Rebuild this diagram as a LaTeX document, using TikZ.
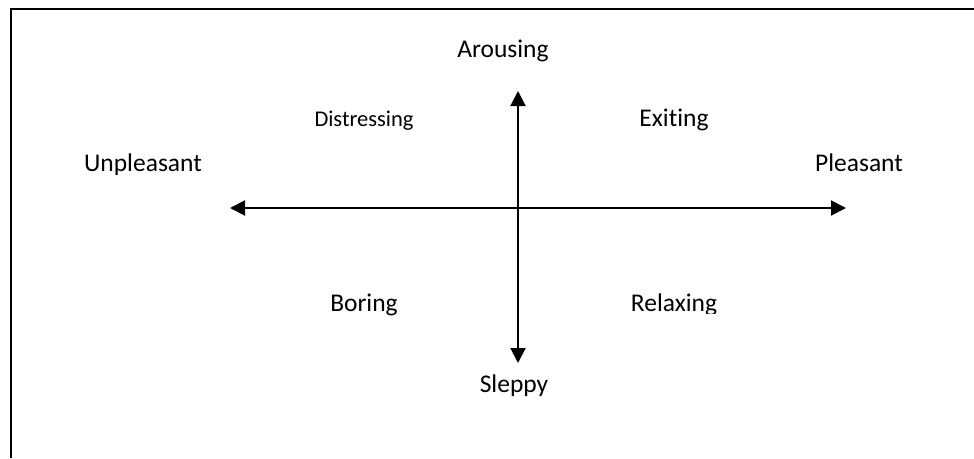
\documentclass[tikz,border=0pt]{standalone}
\usepackage{fontspec}
\setmainfont[Ligatures={NoCommon}]{Carlito}
\usetikzlibrary{arrows.meta}
\begin{document}
\begin{tikzpicture}[x=1pt,y=-1pt,
  lbl/.style={anchor=base,inner sep=0pt,font=\fontsize{25.5}{28}\selectfont},
  lblsmall/.style={anchor=base,inner sep=0pt,font=\fontsize{22.5}{25}\selectfont},
  axis/.style={line width=2pt,{Triangle[length=15pt,width=15pt]}-{Triangle[length=15pt,width=15pt]}},
  frame/.style={line width=2pt}]
\useasboundingbox (0,0) rectangle (974,458);
% frame
\coordinate (f1) at (11,458);
\coordinate (f2) at (11,9);
\coordinate (f3) at (974,9);
\draw[frame] (f1) -- (f2) -- (f3);
% axes
\coordinate (L) at (230,208);
\coordinate (R) at (846,208);
\coordinate (T) at (518,91);
\coordinate (B) at (518,363);
\draw[axis] (L) -- (R);
\draw[axis] (T) -- (B);
% labels
\node[lbl] (arousing) at (503,57) {Arousing};
\node[lblsmall] (distressing) at (364,126) {Distressing};
\node[lbl] (exiting) at (674,126) {Exiting};
\node[lbl] (unpleasant) at (143,171) {Unpleasant};
\node[lbl] (pleasant) at (859,171) {Pleasant};
\node[lbl] (boring) at (364,311) {Boring};
\begin{scope}
\clip (600,270) rectangle (760,313);
\node[lbl] (relaxing) at (674,311) {Relaxing};
\end{scope}
\node[lbl] (sleppy) at (514,392) {Sleppy};
\end{tikzpicture}
\end{document}
